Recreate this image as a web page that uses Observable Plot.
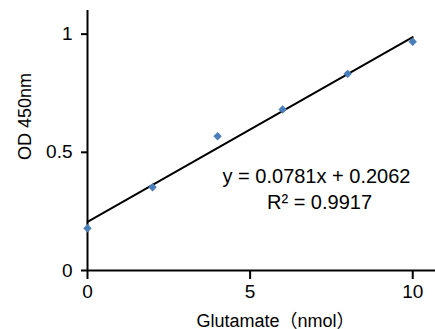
<!DOCTYPE html>
<html>
<head>
<meta charset="utf-8">
<script src="https://cdn.jsdelivr.net/npm/d3@7"></script>
<script src="https://cdn.jsdelivr.net/npm/@observablehq/plot@0.6"></script>
<style>
  html, body { margin: 0; padding: 0; background: #fff; }
  #chart svg { display: block; }
</style>
</head>
<body>
<div id="chart"></div>
<script>
const glutamate = [0, 2, 4, 6, 8, 10];
const od450 = [0.179, 0.352, 0.568, 0.681, 0.832, 0.968];
const slope = 0.0781;
const intercept = 0.2062;
const xTicks = [0, 5, 10];
const yTicks = [0, 0.5, 1];
const xLabel = "Glutamate（nmol）";
const yLabel = "OD 450nm";
const eqLine1 = "y = 0.0781x + 0.2062";
const eqLine2 = "R² = 0.9917";

const points = glutamate.map((x, i) => ({x, y: od450[i]}));
const fitX = [glutamate[0], glutamate[glutamate.length - 1]];
const fit = fitX.map(x => ({x, y: slope * x + intercept}));

const font = "'Liberation Sans', Arial, 'Noto Sans CJK JP', sans-serif";

const chart = Plot.plot({
  width: 435,
  height: 329,
  marginLeft: 87,
  marginRight: 0,
  marginTop: 10,
  marginBottom: 59,
  style: {fontFamily: font, fontSize: "19px", color: "#000", background: "#fff"},
  x: {domain: [0, 10.7]},
  y: {domain: [0, 1.1]},
  marks: [
    Plot.axisX({ticks: xTicks, tickSize: 9, tickPadding: 5, fontSize: 19, label: null, tickFormat: d => String(d)}),
    Plot.axisY({ticks: yTicks, tickSize: 6, tickPadding: 9, fontSize: 19, label: null, tickFormat: d => String(d)}),
    Plot.ruleX([0], {stroke: "#000", strokeWidth: 2}),
    Plot.ruleY([0], {stroke: "#000", strokeWidth: 2}),
    Plot.line(fit, {x: "x", y: "y", stroke: "#000", strokeWidth: 2}),
    Plot.dot(points, {x: "x", y: "y", symbol: "diamond2", r: 3.8, fill: "#4a7ebb", stroke: "none"}),
    Plot.text([xLabel], {frameAnchor: "bottom", dx: 14, dy: 56, fontSize: 18, text: d => d, fill: "#000"}),
    Plot.text([yLabel], {frameAnchor: "left", textAnchor: "middle", dx: -62, dy: -24, rotate: -90, fontSize: 18, text: d => d, fill: "#000"}),
    Plot.text([eqLine1], {frameAnchor: "top-left", textAnchor: "middle", lineAnchor: "middle", dx: 229, dy: 166.5, fontSize: 20, text: d => d, fill: "#000"}),
    Plot.text([eqLine2], {frameAnchor: "top-left", textAnchor: "middle", lineAnchor: "middle", dx: 232, dy: 192.5, fontSize: 20, text: d => d, fill: "#000"})
  ]
});
chart.querySelectorAll("[aria-label='x-axis tick'] path, [aria-label='y-axis tick'] path").forEach(p => p.setAttribute("stroke-width", 2));
document.getElementById("chart").appendChild(chart);
</script>
</body>
</html>
